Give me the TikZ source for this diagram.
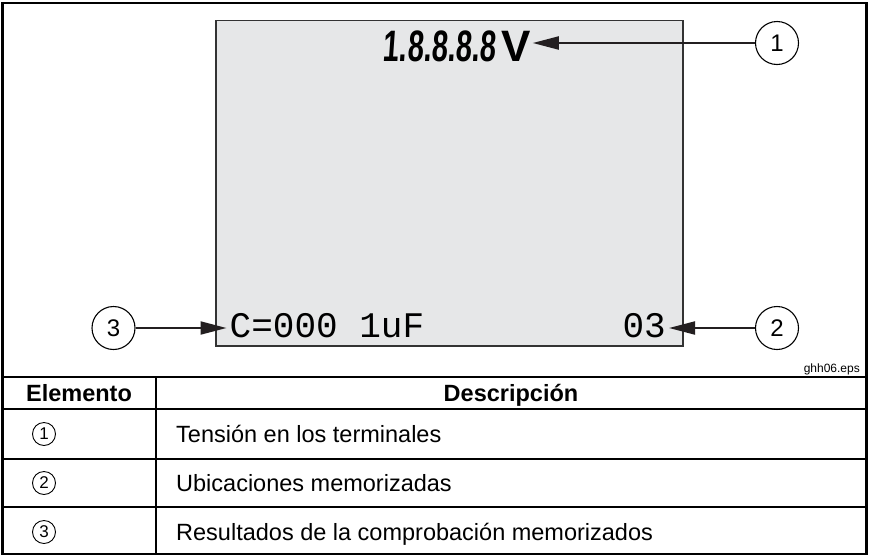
\documentclass[tikz,border=0pt]{standalone}
\usepackage{fontspec}
\setmainfont{Liberation Sans}
\newfontfamily\lcdbig{Liberation Sans Bold}[FakeStretch=0.66,FakeSlant=0.07]
\newfontfamily\lcdunit{Liberation Sans Bold}
\newfontfamily\lcdsmall{Liberation Mono}
\usetikzlibrary{arrows.meta}
\definecolor{lcdgray}{HTML}{E6E7E8}
\definecolor{inkgray}{HTML}{231F20}
\begin{document}
\begin{tikzpicture}[x=1pt,y=-1pt,
  frame/.style={line width=2.6pt,draw=black},
  thinrule/.style={line width=1.2pt,draw=black},
  callout/.style={circle,draw=black,line width=1.1pt,minimum size=43pt,inner sep=0pt,
    font=\fontsize{24}{24}\selectfont},
  pointer/.style={line width=2pt,draw=inkgray,-{Triangle[length=26pt,width=13pt]}},
  itemmark/.style={circle,draw=black,line width=0.9pt,minimum size=23pt,inner sep=0pt,
    font=\fontsize{17}{17}\selectfont},
  hdr/.style={inner sep=0pt,anchor=base,font=\fontsize{23.5}{28}\selectfont\bfseries},
  body/.style={inner sep=0pt,anchor=base west,font=\fontsize{23.5}{28}\selectfont},
]
\useasboundingbox (0,0) rectangle (869,555);
% LCD panel
\draw[fill=lcdgray,draw=black!80,line width=1.2pt] (216,20.5) rectangle (683,346);
% LCD texts
\node[anchor=east,inner sep=0pt,font=\lcdbig\fontsize{44}{44}\selectfont] (reading) at (496,46) {1.8.8.8.8};
\node[anchor=west,inner sep=2pt,font=\lcdunit\fontsize{44}{44}\selectfont] (unit) at (499,46) {V};
\node[anchor=west,inner sep=3pt,font=\lcdsmall\fontsize{36}{36}\selectfont] (memval) at (226.5,326) {C=000 1uF};
\node[anchor=east,inner sep=3pt,font=\lcdsmall\fontsize{36}{36}\selectfont] (count) at (669,326) {03};
% callouts
\node[callout] (c1) at (777,43) {1};
\node[callout] (c2) at (777,328) {2};
\node[callout] (c3) at (113.5,328) {3};
\draw[pointer] (c1.west) -- (c1.west -| unit.east);
\draw[pointer] (c2.west) -- (c2.west -| count.east);
\draw[pointer] (c3.east) -- (c3.east -| memval.west);
% figure id
\node[anchor=east,inner sep=0pt,font=\fontsize{12}{12}\selectfont] (figid) at (860,369) {ghh06.eps};
% frame and table rules
\draw[frame] (2.5,3) rectangle (866.5,553.8);
\draw[frame] (2.5,377) -- (866.5,377);
\draw[line width=2.2pt] (2.5,409) -- (866.5,409);
\draw[thinrule] (2.5,459) -- (866.5,459);
\draw[thinrule] (2.5,507) -- (866.5,507);
\draw[thinrule] (156,377) -- (156,553.8);
% table content
\node[hdr] (hItem) at (79,401.5) {Elemento};
\node[hdr] (hDesc) at (511,401.5) {Descripción};
\node[itemmark] (m1) at (44,434) {1};
\node[itemmark] (m2) at (44,483) {2};
\node[itemmark] (m3) at (44,532) {3};
\node[body] (d1) at (176,442.5) {Tensión en los terminales};
\node[body] (d2) at (176,491.5) {Ubicaciones memorizadas};
\node[body] (d3) at (176,540.5) {Resultados de la comprobación memorizados};
\end{tikzpicture}
\end{document}
